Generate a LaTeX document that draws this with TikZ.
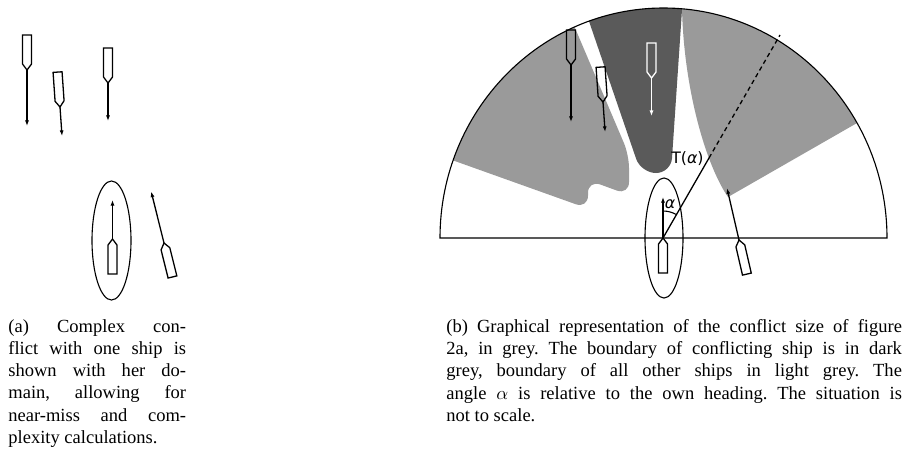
\documentclass[tikz,border=0pt]{standalone}
\usepackage{fontspec}
\setmainfont{Liberation Serif}
\newfontfamily\figfont{DejaVu Sans}
\usepackage{tikz}
\usetikzlibrary{arrows.meta}
\definecolor{domainlight}{RGB}{154,154,154}
\definecolor{domaindark}{RGB}{90,90,90}

\begin{document}
\begin{tikzpicture}[
    x=0.54pt, y=-0.54pt,
    hullLine/.style={line width=0.7pt, line join=miter},
    headingArrow/.style={line width=0.7pt, -{Latex[length=3pt,width=2.2pt]}},
    domainRing/.style={draw, line width=0.6pt},
    rimLine/.style={draw, line width=0.6pt},
    figLabel/.style={inner sep=0pt, font=\figfont\fontsize{8.5}{10}\selectfont},
    captionText/.style={anchor=north west, inner sep=0pt, align=justify, font=\fontsize{10}{12}\selectfont\frenchspacing},
    pics/vessel/.style={code={
        \draw[hullLine] (0,0) -- (4.5,6) -- (4.5,35) -- (-4.5,35) -- (-4.5,6) -- cycle;
        \draw[headingArrow] (0,0) -- (0,-#1);
    }}
]
\useasboundingbox (0,0) rectangle (904,455);

% (a) Ships and own domain
\pic[rotate=180] (shipOne) at (27,70) {vessel=56};
\pic[rotate=184] (shipTwo) at (60,107) {vessel=29};
\pic[rotate=180] (shipThree) at (108,83) {vessel=38};
\pic (ownA) at (112.5,239) {vessel=39};
\pic[rotate=14] (shipFour) at (164,243) {vessel=53};
\draw[domainRing] (111.5,240.5) ellipse[x radius=19.5, y radius=59.5];

% (b) Conflict domains, clipped to the half disc
\coordinate (own) at (663,238);
\begin{scope}
  \clip (440,238) arc[start angle=180, end angle=360, x radius=223.5, y radius=230] -- cycle;
  \fill[domainlight, rounded corners=7pt] (420,148.6) -- (588,208.6) -- (588,180) -- (629,195) -- (629,155) -- (561,-5) -- (420,-5) -- cycle;
  \fill[domaindark, rounded corners=8pt] (580,-5) -- (641,173) -- (671,173) -- (683,-5) -- cycle;
  \fill[domainlight] (683,-5) -- (682,9) .. controls (684,90) and (706,165) .. (728,197) -- (905,95.5) -- (905,-5) -- cycle;
\end{scope}
\draw[rimLine] (440,238) arc[start angle=180, end angle=360, x radius=223.5, y radius=230] -- cycle;

% (b) Ships
\pic[rotate=180] (shipA) at (571,65) {vessel=57};
\pic[rotate=184] (shipB) at (603,102) {vessel=30};
\pic[rotate=180, color=white] (shipC) at (651.5,78) {vessel=38};
\pic (ownB) at (own) {vessel=41};
\pic[rotate=13] (shipD) at (739,240) {vessel=53};
\draw[domainRing] (664,238) ellipse[x radius=19, y radius=60];

% Bearing line and T(alpha)
\coordinate (tPoint) at (709,158);
\coordinate (rimPoint) at (780,35);
\draw[line width=0.7pt] (own) -- (tPoint);
\draw[line width=0.7pt, dash pattern=on 2.4pt off 1.8pt] (tPoint) -- (rimPoint);
\node[figLabel, anchor=east] (tLabel) at (704,159) {T(\itshape α\upshape)};
\draw[line width=0.6pt] (663,211) arc[start angle=-90, end angle=-60, radius=27];
\node[figLabel] (alphaLabel) at (670,204) {\itshape α};

% Captions
\node[captionText, text width=96pt] (capA) at (8,319) {(a) Complex con-\linebreak flict with one ship is\linebreak shown with her do-\linebreak main, allowing for\linebreak near-miss and com-\linebreak plexity calculations.};
\node[captionText, text width=246pt] (capB) at (446,319) {(b) Graphical representation of the conflict size of figure\linebreak 2a, in grey. The boundary of conflicting ship is in dark\linebreak grey, boundary of all other ships in light grey. The\linebreak angle $\alpha$ is relative to the own heading. The situation is\linebreak not to scale.};

\end{tikzpicture}
\end{document}
